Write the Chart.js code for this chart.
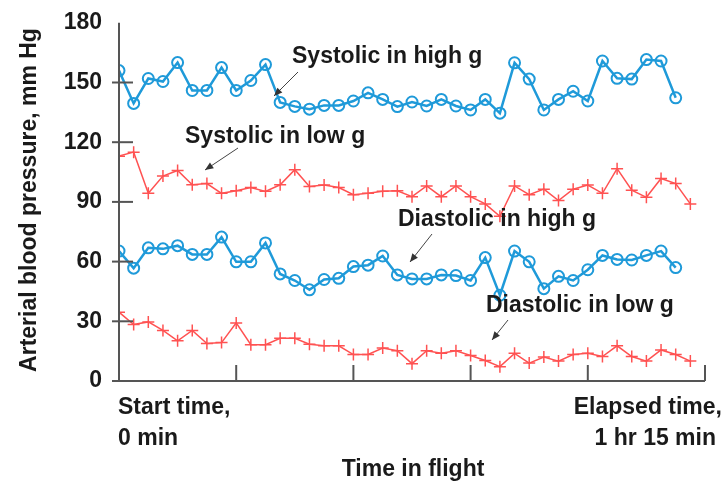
<!DOCTYPE html>
<html>
<head>
<meta charset="utf-8">
<script src="https://cdn.jsdelivr.net/npm/chart.js@4.4.1/dist/chart.umd.min.js"></script>
<style>
  html, body { margin: 0; padding: 0; background: #fff; }
  #wrap { width: 727px; height: 482px; position: relative; }
</style>
</head>
<body>
<div id="wrap"><canvas id="bpChart"></canvas></div>
<script>
// readings taken along the flight, one every ~1.9 min
const systolicHigh = [156, 139.5, 152, 150.5, 160, 146, 146, 157.5, 146, 151, 159, 140, 138, 136.6,
  138.5, 138.5, 140.7, 144.8, 141.5, 137.9, 140.2, 138.2, 141.5, 138.2, 136.2, 141.5, 134.6,
  159.9, 151.7, 136.2, 141.5, 145.6, 140.7, 160.8, 152.1, 151.7, 161.5, 160.8, 142.3];
const systolicLow = [113, 115, 94.3, 103, 105.8, 98.6, 99.2, 94.3, 95.6, 97.2, 95.3, 98.6, 106.2, 97.8,
  98.5, 97.2, 93.6, 94.3, 95.3, 95.6, 92.6, 98, 92.6, 98, 92.6, 89, 82.8,
  98, 93.6, 96.4, 90.7, 96.4, 98.5, 94.3, 106.7, 95.9, 92.3, 101.8, 99.2, 89];
const diastolicHigh = [65.3, 56.7, 66.9, 66.4, 68, 63.6, 63.6, 72.3, 59.9, 59.9, 69.4, 53.8, 50.5, 45.8,
  51, 51.6, 57.5, 58.2, 62.8, 53.3, 51.3, 51.3, 53.3, 53, 50.5, 62, 43.1,
  65.3, 59.9, 46.4, 52.6, 50.5, 55.9, 63.1, 61.1, 60.8, 63.1, 65.3, 57];
const diastolicLow = [34.6, 28.4, 29.7, 25.4, 20.2, 25.4, 18.8, 19.3, 29.2, 18.2, 18.2, 21.5, 21.5, 18.5,
  17.7, 17.7, 13.3, 13.3, 16.6, 15.2, 8.7, 15.2, 13.9, 15.2, 12.8, 10.3, 7.2,
  13.9, 9, 12, 10, 13.3, 13.9, 12.3, 17.7, 12.3, 10, 15.6, 13.3, 10];

const yTicks = [0, 30, 60, 90, 120, 150, 180];
const xTicks = [0, 8, 16, 24, 32, 40];
const startLabel = ['Start time,', '0 min'];
const endLabel = ['Elapsed time,', '1 hr 15 min'];
const xTitle = 'Time in flight';
const yTitle = 'Arterial blood pressure, mm Hg';

const BLUE = '#1f9ad9';
const RED = '#ff5252';
const FONT = '"Liberation Sans", Arial, sans-serif';
const TEXT = 'bold 23px ' + FONT;

function toPoints(arr){
    return arr.map(function(v, i){ return {x: i, y: v}; });
}

// labels with arrows pointing at each curve
const notes = [
    {text: 'Systolic in high g', tx: 292, ty: 63, from: [298, 72], to: [274, 96]},
    {text: 'Systolic in low g', tx: 185, ty: 143, from: [238, 148], to: [205, 170]},
    {text: 'Diastolic in high g', tx: 398, ty: 226, from: [432, 234], to: [410, 262]},
    {text: 'Diastolic in low g', tx: 486, ty: 312, from: [508, 320], to: [492, 340]}
];

function arrow(ctx, a, b){
    ctx.save();
    ctx.strokeStyle = '#444';
    ctx.lineWidth = 1;
    ctx.beginPath();
    ctx.moveTo(a[0], a[1]);
    ctx.lineTo(b[0], b[1]);
    ctx.stroke();
    const ang = Math.atan2(b[1] - a[1], b[0] - a[0]);
    ctx.beginPath();
    ctx.moveTo(b[0], b[1]);
    ctx.lineTo(b[0] - 9 * Math.cos(ang - 0.4), b[1] - 9 * Math.sin(ang - 0.4));
    ctx.lineTo(b[0] - 9 * Math.cos(ang + 0.4), b[1] - 9 * Math.sin(ang + 0.4));
    ctx.closePath();
    ctx.fillStyle = '#333';
    ctx.fill();
    ctx.restore();
}

const decor = {
    id: 'decor',
    afterDraw(chart){
        const ctx = chart.ctx;
        const xs = chart.scales.x, ys = chart.scales.y;
        const left = xs.left, right = xs.right, top = ys.top, bottom = ys.bottom;
        ctx.save();
        ctx.strokeStyle = '#555';
        ctx.lineWidth = 2;
        // axes
        ctx.beginPath();
        ctx.moveTo(left, top);
        ctx.lineTo(left, bottom);
        ctx.moveTo(left - 7, bottom);
        ctx.lineTo(right, bottom);
        ctx.stroke();
        // y tick marks, crossing the axis
        yTicks.forEach(function(v){
            if (v === 0 || v === 180) return;
            const py = ys.getPixelForValue(v);
            ctx.beginPath();
            ctx.moveTo(left - 7, py);
            ctx.lineTo(left + 14, py);
            ctx.stroke();
        });
        // x tick marks, pointing up
        xTicks.forEach(function(v){
            if (v === 0) return;
            const px = xs.getPixelForValue(v);
            ctx.beginPath();
            ctx.moveTo(px, bottom);
            ctx.lineTo(px, bottom - 16);
            ctx.stroke();
        });
        ctx.fillStyle = '#1a1a1a';
        ctx.font = TEXT;
        ctx.textBaseline = 'alphabetic';
        ctx.textAlign = 'left';
        ctx.fillText(startLabel[0], xs.getPixelForValue(0) - 1, 414);
        ctx.fillText(startLabel[1], xs.getPixelForValue(0) - 1, 445);
        ctx.textAlign = 'right';
        ctx.fillText(endLabel[0], 722, 414);
        ctx.fillText(endLabel[1], 716, 445);
        ctx.textAlign = 'center';
        ctx.fillText(xTitle, 413, 476);
        ctx.save();
        ctx.translate(36, 200);
        ctx.rotate(-Math.PI / 2);
        ctx.fillText(yTitle, 0, 0);
        ctx.restore();
        ctx.textAlign = 'left';
        notes.forEach(function(n){
            ctx.fillText(n.text, n.tx, n.ty);
        });
        ctx.restore();
        notes.forEach(function(n){ arrow(ctx, n.from, n.to); });
    }
};

const ctx = document.getElementById('bpChart');
new Chart(ctx, {
    type: 'line',
    data: {
        datasets: [
            {label: 'Systolic in high g', data: toPoints(systolicHigh), borderColor: BLUE, borderWidth: 2.5,
             pointStyle: 'circle', pointRadius: 5.5, pointBorderWidth: 2, pointBorderColor: BLUE, pointBackgroundColor: 'rgba(0,0,0,0)'},
            {label: 'Systolic in low g', data: toPoints(systolicLow), borderColor: RED, borderWidth: 1.5,
             pointStyle: 'cross', pointRadius: 6, pointBorderWidth: 1.5, pointBorderColor: RED},
            {label: 'Diastolic in high g', data: toPoints(diastolicHigh), borderColor: BLUE, borderWidth: 2.5,
             pointStyle: 'circle', pointRadius: 5.5, pointBorderWidth: 2, pointBorderColor: BLUE, pointBackgroundColor: 'rgba(0,0,0,0)'},
            {label: 'Diastolic in low g', data: toPoints(diastolicLow), borderColor: RED, borderWidth: 1.5,
             pointStyle: 'cross', pointRadius: 6, pointBorderWidth: 1.5, pointBorderColor: RED}
        ]
    },
    options: {
        responsive: true,
        maintainAspectRatio: false,
        animation: false,
        layout: {padding: {top: 15, right: 22, left: 0, bottom: 0}},
        plugins: {legend: {display: false}, tooltip: {enabled: false}},
        elements: {line: {tension: 0}},
        scales: {
            x: {
                type: 'linear', min: 0, max: 40,
                grid: {display: false}, border: {display: false},
                ticks: {display: false},
                afterFit(s){ s.height = 101; }
            },
            y: {
                min: 0, max: 180,
                grid: {display: false}, border: {display: false},
                afterBuildTicks(s){ s.ticks = yTicks.map(function(v){ return {value: v}; }); },
                ticks: {color: '#1a1a1a', font: {family: FONT, size: 23, weight: 'bold'}, padding: 9},
                afterFit(s){ s.width = 119; }
            }
        }
    },
    plugins: [decor]
});
</script>
</body>
</html>
